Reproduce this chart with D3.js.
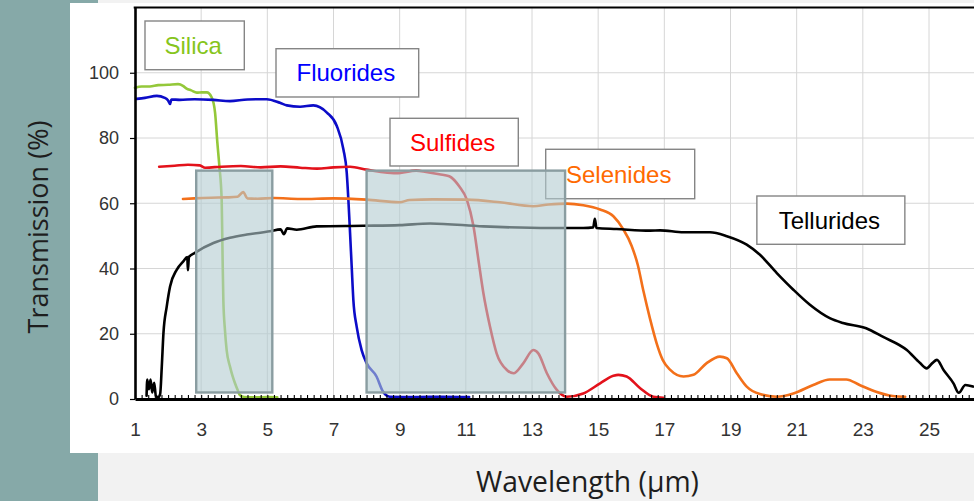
<!DOCTYPE html>
<html><head><meta charset="utf-8">
<script src="https://cdn.jsdelivr.net/npm/d3@7"></script>
<style>html,body{margin:0;padding:0;background:#f2f2f2;overflow:hidden}svg{display:block}</style>
</head><body>
<svg id="chart" width="974" height="501"></svg>
<script>
// ---------- DATA ----------
const categories = ["Silica", "Fluorides", "Sulfides", "Selenides", "Tellurides"];

const silica = [[1.0,95.4],[1.2,95.8],[1.45,95.8],[1.7,96.2],[2.0,96.3],[2.3,96.5],[2.45,96],[2.56,95.1],[2.7,94.6],[2.87,93.9],[3.02,94],[3.17,94],[3.32,92.4],[3.42,87.8],[3.49,78.5],[3.55,71.4],[3.62,61],[3.645,45],[3.67,30.4],[3.72,21],[3.77,15],[3.87,10],[3.95,7],[4.02,4.9],[4.1,2.8],[4.17,1.2],[4.3,0.6],[4.6,0.5],[5.0,0.6],[5.3,0.5]];

const fluorides = [[1.05,92],[1.3,92.3],[1.66,92.9],[1.9,92.3],[2.0,91.5],[2.06,90.4],[2.1,91.8],[2.36,91.7],[2.8,91.9],[3.37,91.7],[3.87,91.3],[4.4,91.8],[4.98,91.9],[5.38,90.8],[5.59,90],[5.99,89.6],[6.39,90],[6.8,87.8],[7.1,83.7],[7.3,76.5],[7.4,69.4],[7.45,61],[7.5,51],[7.55,40.6],[7.6,30.4],[7.7,22.2],[7.85,15],[8.0,11],[8.3,6.9],[8.5,2.2],[8.7,0.7],[9.5,0.6],[10.3,0.7],[11.1,0.6]];

const sulfides = [[1.73,71.2],[2.2,71.5],[2.6,71.8],[2.96,71.6],[3.12,70.9],[3.6,71.2],[4.2,71.4],[4.8,71],[5.4,71.3],[5.99,70.9],[6.5,70.6],[7.0,71],[7.5,71.2],[8.0,70.3],[8.5,69.5],[8.9,69.2],[9.5,70],[9.8,69.6],[10.2,68.9],[10.5,68.3],[10.8,65.2],[11.03,61.1],[11.23,53],[11.38,42.7],[11.53,32.5],[11.73,22.2],[11.93,14],[12.24,8.9],[12.44,7.9],[12.74,11],[13.04,15],[13.19,14],[13.45,7.9],[13.75,2.8],[14.05,0.7],[14.55,1.7],[15.06,4.8],[15.46,7.1],[15.61,7.4],[15.86,6.9],[16.27,3.3],[16.67,0.7],[16.97,0.4]];

const selenides = [[2.45,61.3],[2.8,61.5],[3.3,61.7],[3.8,61.8],[4.1,62],[4.27,63.4],[4.4,61.5],[4.7,61.4],[5.2,61.6],[5.99,61.3],[7.0,61.5],[8.0,61.1],[9.0,60.3],[9.3,61],[10.0,61.2],[11.03,61.1],[12.03,60.3],[13.04,59.1],[13.5,59.6],[14.05,59.9],[14.55,59.4],[15.06,58.1],[15.46,56],[15.76,52],[16.01,47],[16.2,41],[16.37,33],[16.57,24.5],[16.77,17],[16.95,12],[17.17,9],[17.58,6.9],[17.88,7.4],[18.28,11],[18.68,13],[18.89,12.5],[19.19,7.9],[19.49,3.8],[19.89,1.5],[20.4,0.7],[20.9,1.7],[21.5,4.3],[22.0,6.0],[22.5,6.0],[22.9,4.3],[23.4,2.2],[23.9,0.9],[24.28,0.7]];

const tellurides = [[1.35,1],[1.37,6],[1.42,3],[1.47,6],[1.52,2],[1.58,5],[1.63,1],[1.7,0.5],[1.76,1.5],[1.81,10],[1.86,20.2],[1.96,28.4],[2.06,34.5],[2.26,39.6],[2.46,42.2],[2.58,43.5],[2.6,39.5],[2.63,43.5],[2.81,44.8],[3.37,47.8],[3.87,49.4],[4.38,50.4],[5.08,51.4],[5.4,52],[5.5,50.5],[5.6,52.3],[5.89,51.9],[6.49,52.9],[7.9,53.1],[9.0,53.3],[9.92,53.8],[11.53,52.9],[13.55,52.4],[14.55,52.4],[14.85,52.6],[14.9,55.2],[14.95,52.4],[15.56,52.1],[16.57,51.6],[16.87,51.7],[17.58,51.1],[18.38,51.1],[18.89,49.9],[19.49,47.3],[19.89,44.2],[20.4,38.6],[20.9,33.5],[21.4,28.9],[22.0,24.8],[22.4,23.3],[23.1,21.7],[23.6,19.1],[24.33,15],[24.73,11],[24.93,9.4],[25.1,11],[25.24,12],[25.44,8.9],[25.74,4.8],[25.9,1.9],[26.1,4.3],[26.33,3.8]];

const seriesValues = [silica, fluorides, sulfides, selenides, tellurides];

const wavelengthTicks = [1, 3, 5, 7, 9, 11, 13, 15, 17, 19, 21, 23, 25];
const transmissionTicks = [0, 20, 40, 60, 80, 100];

// transmission windows (µm) and their transmission extent (%)
const windowRanges = [[2.85, 5.15], [8, 14]];
const windowExtent = [2, 70];

// ---------- STYLE / LAYOUT ----------
const lineColors = ["#94c83a", "#0c0cc8", "#e3121b", "#f3701a", "#000000"];
const textColors = ["#86c51c", "#0000ff", "#ff0000", "#ff6a00", "#000000"];
// label boxes in data units: [λ left, λ right, T top, T bottom]
const labelBoxes = [[1.302, 4.304, 115.86, 100.93],[5.262, 9.575, 107.37, 92.57],[8.708, 12.586, 86.04, 71.42],[13.414, 17.918, 76.54, 61.39],[19.797, 24.27, 62.22, 47.42]];

const svg = d3.select("#chart");
const W = 974, H = 501;

// background panels
svg.append("rect").attr("width", W).attr("height", H).attr("fill", "#f2f2f2");
svg.append("rect").attr("x", 0).attr("y", 0).attr("width", 98).attr("height", H).attr("fill", "#86a9a8");
svg.append("rect").attr("x", 70).attr("y", 3).attr("width", W - 70).attr("height", 450).attr("fill", "#ffffff");

const x = d3.scaleLinear().domain([1, 25]).range([135, 929]);
const y = d3.scaleLinear().domain([0, 120]).range([399, 7.5]);
const xMax = x.invert(W + 2);

// grid
const g = svg.append("g");
g.selectAll("line.vg").data(wavelengthTicks.filter(d => d > 1)).join("line")
  .attr("x1", d => x(d)).attr("x2", d => x(d)).attr("y1", y(120)).attr("y2", y(0))
  .attr("stroke", "#d6d6d6").attr("stroke-width", 1);
g.selectAll("line.hg").data(transmissionTicks.filter(d => d > 0)).join("line")
  .attr("x1", x(1)).attr("x2", W).attr("y1", d => y(d)).attr("y2", d => y(d))
  .attr("stroke", "#d6d6d6").attr("stroke-width", 1);

// series lines
const line = d3.line().x(d => x(d[0])).y(d => y(d[1])).curve(d3.curveMonotoneX);
svg.append("g").selectAll("path").data(seriesValues).join("path")
  .attr("d", line).attr("fill", "none")
  .attr("stroke", (d, i) => lineColors[i]).attr("stroke-width", 2.6)
  .attr("stroke-linejoin", "round").attr("stroke-linecap", "round");

// label boxes
const lb = svg.append("g").selectAll("g").data(categories).join("g");
lb.append("rect")
  .attr("x", (d, i) => x(labelBoxes[i][0])).attr("y", (d, i) => y(labelBoxes[i][2]))
  .attr("width", (d, i) => x(labelBoxes[i][1]) - x(labelBoxes[i][0]))
  .attr("height", (d, i) => y(labelBoxes[i][3]) - y(labelBoxes[i][2]))
  .attr("fill", "#fff").attr("stroke", "#858585").attr("stroke-width", 1.4);
lb.append("text")
  .attr("x", (d, i) => (x(labelBoxes[i][0]) + x(labelBoxes[i][1])) / 2 - 1.5)
  .attr("y", (d, i) => (y(labelBoxes[i][2]) + y(labelBoxes[i][3])) / 2 + 8.6)
  .attr("text-anchor", "middle")
  .attr("font-family", "'Liberation Sans', Arial, sans-serif").attr("font-size", 24)
  .attr("fill", (d, i) => textColors[i]).text(d => d);

// transmission windows
svg.append("g").selectAll("rect").data(windowRanges).join("rect")
  .attr("x", d => x(d[0])).attr("width", d => x(d[1]) - x(d[0]))
  .attr("y", y(windowExtent[1])).attr("height", y(windowExtent[0]) - y(windowExtent[1]))
  .attr("fill", "rgb(179,203,209)").attr("fill-opacity", 0.6)
  .attr("stroke", "#8a9da1").attr("stroke-width", 2.4);

// axes
const yAxis = svg.append("g").attr("transform", `translate(${x(1)},0)`)
  .call(d3.axisLeft(y).tickValues(transmissionTicks).tickSize(5).tickSizeOuter(0).tickPadding(11));
yAxis.select(".domain").attr("stroke", "#000").attr("stroke-width", 2.6);
yAxis.selectAll(".tick line").attr("stroke", "#000").attr("stroke-width", 1.2);
yAxis.selectAll("text").attr("font-family", "'Liberation Sans', Arial, sans-serif")
  .attr("font-size", 18).attr("fill", "#333");

const xb = d3.scaleLinear().domain([1, xMax]).range([x(1), x(xMax)]);
const minorTicks = d3.range(0, Math.round((xMax - 1) / 0.2) + 1).map(k => 1 + k * 0.2);
const xMinor = svg.append("g").attr("transform", `translate(0,${y(0)})`)
  .call(d3.axisBottom(xb).tickValues(minorTicks).tickSize(-4).tickSizeOuter(0).tickFormat(""));
xMinor.select(".domain").remove();
xMinor.selectAll(".tick line").attr("stroke", "#000").attr("stroke-width", 1.1);

const xAxis = svg.append("g").attr("transform", `translate(0,${y(0)})`)
  .call(d3.axisBottom(xb).tickValues(wavelengthTicks).tickSize(0).tickSizeOuter(0).tickPadding(24).tickFormat(d3.format("d")));
xAxis.select(".domain").attr("stroke", "#000").attr("stroke-width", 2.8);
xAxis.selectAll("text").attr("font-family", "'Liberation Sans', Arial, sans-serif")
  .attr("font-size", 19).attr("fill", "#333");

// top border
svg.append("line").attr("x1", x(1) - 1.3).attr("x2", W).attr("y1", y(120)).attr("y2", y(120))
  .attr("stroke", "#000").attr("stroke-width", 2.2);

// axis titles (fit to measured widths)
function fit(sel, target) {
  const len = sel.node().getComputedTextLength();
  const fs = +sel.attr("font-size");
  sel.attr("font-size", fs * target / len);
}
const yt = svg.append("text").attr("transform", "translate(48,227) rotate(-90)")
  .attr("text-anchor", "middle").attr("font-family", "'Open Sans', sans-serif")
  .attr("font-size", 26).attr("fill", "#1e1e1e").text("Transmission (%)");
fit(yt, 213);
const xt = svg.append("text").attr("x", 587.5).attr("y", 492)
  .attr("text-anchor", "middle").attr("font-family", "'Open Sans', sans-serif")
  .attr("font-size", 28).attr("fill", "#1e1e1e").text("Wavelength (µm)");
fit(xt, 223);
</script>
</body></html>
